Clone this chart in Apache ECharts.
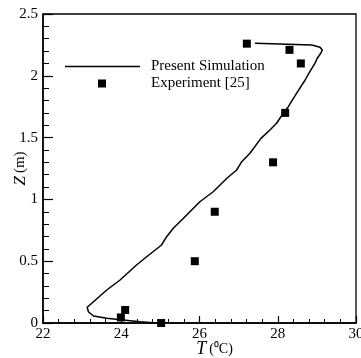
<!DOCTYPE html>
<html>
<head>
<meta charset="utf-8">
<script src="https://cdn.jsdelivr.net/npm/echarts@6/dist/echarts.min.js"></script>
<style>
html,body{margin:0;padding:0;background:#fff;}
#c{width:361px;height:358px;}
</style>
</head>
<body>
<div id="c"></div>
<script>
// Simulation profile (T in °C, Z in m)
var simT = [25.07, 24.82, 24.48, 24.05, 23.63, 23.29, 23.16, 23.13, 23.29, 23.63, 23.97, 24.39, 24.65, 25.03, 25.16, 25.33, 25.59, 25.80, 26.01, 26.35, 26.70, 26.95, 27.08, 27.29, 27.57, 27.80, 27.97, 28.14, 28.27, 28.48, 28.70, 28.82, 28.95, 29.01, 29.10, 29.14, 29.08, 28.87, 27.42];
var simZ = [0.000, 0.002, 0.011, 0.024, 0.038, 0.057, 0.091, 0.127, 0.172, 0.267, 0.348, 0.469, 0.536, 0.631, 0.698, 0.766, 0.847, 0.914, 0.981, 1.062, 1.171, 1.238, 1.305, 1.373, 1.494, 1.561, 1.616, 1.697, 1.750, 1.858, 1.966, 2.033, 2.101, 2.142, 2.182, 2.209, 2.231, 2.249, 2.263];
// Experiment [25]
var expT = [27.21, 28.30, 28.59, 28.19, 27.88, 26.39, 25.88, 24.10, 23.99, 25.02];
var expZ = [2.26, 2.21, 2.10, 1.70, 1.30, 0.90, 0.50, 0.105, 0.045, 0.0];
var xTicks = [22, 24, 26, 28, 30];
var yTicks = [0, 0.5, 1, 1.5, 2, 2.5];
var seriesNames = ['Present Simulation', 'Experiment [25]'];

function zip(a, b) { return a.map(function (v, i) { return [v, b[i]]; }); }

var FONT = "'Liberation Serif','Times New Roman',serif";
var chart = echarts.init(document.getElementById('c'), null, {renderer: 'canvas'});
chart.setOption({
  animation: false,
  backgroundColor: '#fff',
  textStyle: {fontFamily: FONT, color: '#000'},
  grid: {left: 43, right: 5, top: 14, bottom: 35, show: true, borderColor: '#000', borderWidth: 1.3,
         containLabel: false, outerBoundsMode: 'none'},
  legend: [
    {
      data: [{name: seriesNames[0], icon: 'rect', itemStyle: {color: '#000'}}],
      left: 65, top: 59, padding: 0, selectedMode: false,
      itemWidth: 75, itemHeight: 1.6,
      formatter: function (n) { return '{p|}' + n; },
      textStyle: {fontFamily: FONT, fontSize: 15, color: '#000', rich: {p: {width: 6}}}
    },
    {
      data: [{name: seriesNames[1], icon: 'rect', itemStyle: {color: '#000', opacity: 1}}],
      left: 98, top: 76, padding: 0, selectedMode: false,
      itemWidth: 8, itemHeight: 8,
      formatter: function (n) { return '{p|}' + n; },
      textStyle: {fontFamily: FONT, fontSize: 15, color: '#000', rich: {p: {width: 40}}}
    }
  ],
  xAxis: {
    type: 'value', min: xTicks[0], max: xTicks[xTicks.length - 1], interval: 2,
    name: '{t|T} {u|(⁰C)}', nameLocation: 'middle', nameGap: 17, nameMoveOverlap: false,
    nameTextStyle: {
      padding: [0, 0, 0, 30],
      rich: {
        t: {fontFamily: FONT, fontStyle: 'italic', fontSize: 18, color: '#000'},
        u: {fontFamily: FONT, fontSize: 14, color: '#000'}
      }
    },
    axisLine: {lineStyle: {color: '#000', width: 1.5}},
    axisTick: {inside: true, length: 7, lineStyle: {color: '#000', width: 1.2}},
    minorTick: {show: true, splitNumber: 5, length: 4, lineStyle: {color: '#000', width: 1}},
    splitLine: {show: false},
    axisLabel: {fontFamily: FONT, fontSize: 15, color: '#000', margin: 4}
  },
  yAxis: {
    type: 'value', min: yTicks[0], max: yTicks[yTicks.length - 1], interval: 0.5,
    name: '{z|Z} {u|(m)}', nameLocation: 'middle', nameGap: 14, nameRotate: 90, nameMoveOverlap: false,
    nameTextStyle: {
      rich: {
        z: {fontFamily: FONT, fontStyle: 'italic', fontSize: 17, color: '#000'},
        u: {fontFamily: FONT, fontSize: 15, color: '#000'}
      }
    },
    axisLine: {lineStyle: {color: '#000', width: 1.5}},
    axisTick: {inside: true, length: 10, lineStyle: {color: '#000', width: 1.2}},
    minorTick: {show: true, splitNumber: 5, length: 6, lineStyle: {color: '#000', width: 1}},
    splitLine: {show: false},
    axisLabel: {fontFamily: FONT, fontSize: 15, color: '#000', margin: 5}
  },
  series: [
    {
      name: seriesNames[0], type: 'line', data: zip(simT, simZ),
      symbol: 'none', showSymbol: false, lineStyle: {color: '#000', width: 1.5}, itemStyle: {color: '#000'},
      z: 2
    },
    {
      name: seriesNames[1], type: 'scatter', data: zip(expT, expZ),
      symbol: 'rect', symbolSize: 8, itemStyle: {color: '#000', opacity: 1}, z: 3
    }
  ]
});
</script>
</body>
</html>
